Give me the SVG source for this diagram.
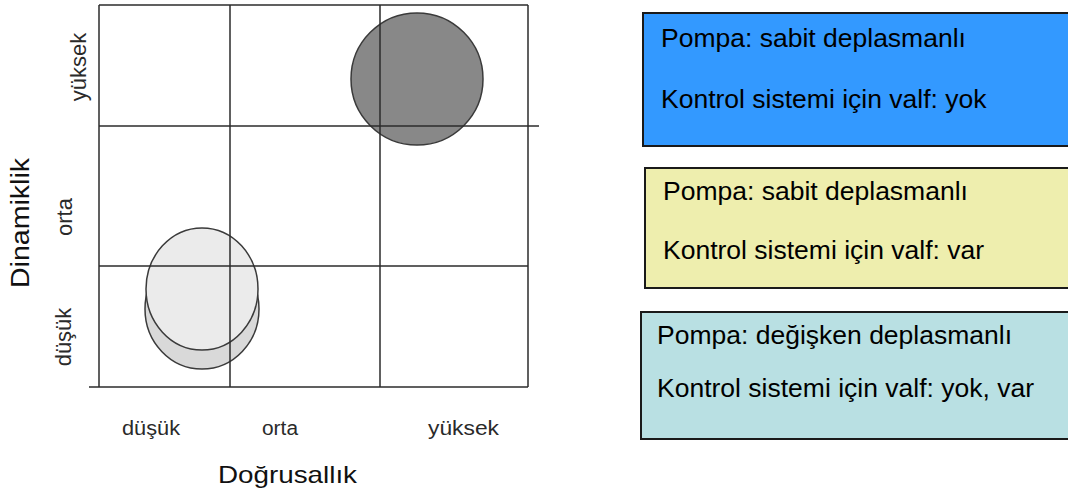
<svg xmlns="http://www.w3.org/2000/svg" width="1068" height="498" viewBox="0 0 1068 498">
  <style>
    .grid { stroke: #2b2b2b; stroke-width: 1.5; fill: none; }
    .bubble { stroke: #3a3a3a; stroke-width: 1.5; }
    .tick { font-family: "Liberation Sans", Arial, sans-serif; font-size: 20px; fill: #2a2a2a; }
    .vtick { font-family: "Liberation Sans", Arial, sans-serif; font-size: 22px; fill: #2a2a2a; }
    .axis { font-family: "Liberation Sans", Arial, sans-serif; fill: #111; }
    .box { stroke: #1a1a1a; stroke-width: 2; }
    .boxtext { font-family: "Liberation Sans", Arial, sans-serif; font-size: 26.5px; fill: #000; }
  </style>

  <rect width="1068" height="498" fill="#ffffff"/>

  <!-- bubbles in the matrix -->
  <g id="bubble-high">
    <circle class="bubble" cx="417" cy="79" r="66" fill="#888888"/>
  </g>
  <g id="bubble-low">
    <ellipse class="bubble" cx="202" cy="309" rx="57" ry="60" fill="#d9d9d9"/>
    <ellipse class="bubble" cx="202" cy="289" rx="56" ry="61" fill="#ebebeb"/>
  </g>

  <!-- 3x3 matrix grid -->
  <g id="grid">
    <line class="grid" x1="99" y1="5" x2="528" y2="5"/>
    <line class="grid" x1="99" y1="5" x2="99" y2="387"/>
    <line class="grid" x1="528" y1="5" x2="528" y2="387"/>
    <line class="grid" x1="230" y1="5" x2="230" y2="387"/>
    <line class="grid" x1="380" y1="5" x2="380" y2="387"/>
    <line class="grid" x1="99" y1="126" x2="539" y2="126"/>
    <line class="grid" x1="99" y1="266" x2="528" y2="266"/>
    <line class="grid" x1="89" y1="387" x2="528" y2="387"/>
  </g>

  <!-- vertical axis -->
  <g id="y-axis">
    <text class="axis" font-size="26" transform="translate(29,223) rotate(-90)" text-anchor="middle" textLength="130" lengthAdjust="spacingAndGlyphs">Dinamiklik</text>
    <text class="vtick" transform="translate(86,67) rotate(-90)" text-anchor="middle">yüksek</text>
    <text class="vtick" transform="translate(72,217) rotate(-90)" text-anchor="middle">orta</text>
    <text class="vtick" transform="translate(71,337) rotate(-90)" text-anchor="middle">düşük</text>
  </g>

  <!-- horizontal axis -->
  <g id="x-axis">
    <text class="tick" x="122" y="435" textLength="58" lengthAdjust="spacingAndGlyphs">düşük</text>
    <text class="tick" x="262" y="435" textLength="36" lengthAdjust="spacingAndGlyphs">orta</text>
    <text class="tick" x="428" y="435" textLength="71" lengthAdjust="spacingAndGlyphs">yüksek</text>
    <text class="axis" font-size="24" x="218" y="483" textLength="139" lengthAdjust="spacingAndGlyphs">Doğrusallık</text>
  </g>

  <!-- legend boxes -->
  <g id="legend-fixed-no-valve">
    <rect class="box" x="643" y="13" width="440" height="133" fill="#3399ff"/>
    <text class="boxtext" x="661" y="47">Pompa: sabit deplasmanlı</text>
    <text class="boxtext" x="661" y="108">Kontrol sistemi için valf: yok</text>
  </g>
  <g id="legend-fixed-valve">
    <rect class="box" x="645" y="168" width="440" height="120" fill="#eeeeae"/>
    <text class="boxtext" x="663" y="200">Pompa: sabit deplasmanlı</text>
    <text class="boxtext" x="663" y="259">Kontrol sistemi için valf: var</text>
  </g>
  <g id="legend-variable">
    <rect class="box" x="641" y="312" width="440" height="127" fill="#b9e0e3"/>
    <text class="boxtext" x="657" y="344">Pompa: değişken deplasmanlı</text>
    <text class="boxtext" x="657" y="397">Kontrol sistemi için valf: yok, var</text>
  </g>
</svg>
